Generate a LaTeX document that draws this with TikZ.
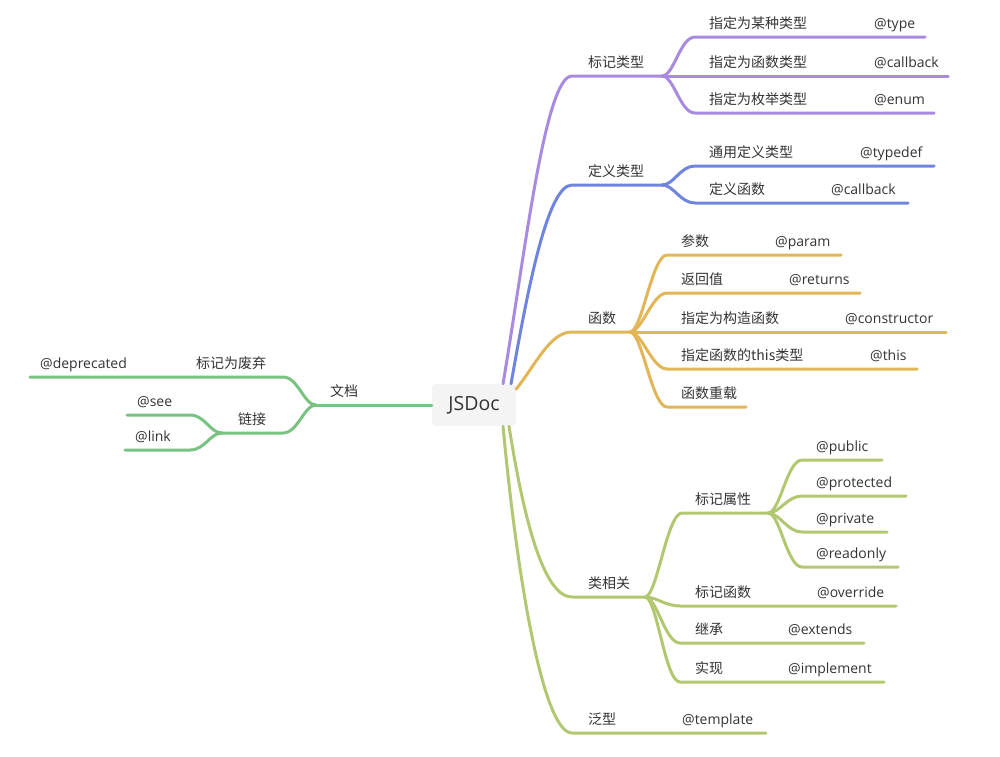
\documentclass[tikz,border=0pt]{standalone}
\usepackage{fontspec}
\setmainfont{Open Sans}
\newfontfamily\cjk{Noto Sans CJK SC}
\usetikzlibrary{calc}
\usepackage{xcolor}
\definecolor{txt}{HTML}{333333}
\definecolor{rootgray}{HTML}{F4F4F4}
\definecolor{mpurple}{HTML}{A88BE0}
\definecolor{mblue}{HTML}{6E84DE}
\definecolor{mgold}{HTML}{E2B556}
\definecolor{mgreen}{HTML}{78C381}
\definecolor{molive}{HTML}{B2C870}

\begin{document}
\begin{tikzpicture}[x=1pt, y=-1pt,
    line/.style={line width=3pt, line cap=round},
    lbl/.style={anchor=base west, inner sep=0pt, text=txt, font=\fontsize{14}{17}\selectfont},
    zh/.style={lbl, font=\fontsize{14}{17}\selectfont\cjk},
    fork/.style={to path={.. controls +(12,0) and +(-15,0) .. (\tikztotarget)}},
    lfork/.style={to path={.. controls +(-12,0) and +(15,0) .. (\tikztotarget)}}]

        \useasboundingbox (0,0) rectangle (1000,756);

        % Root
        \node[fill=rootgray, rounded corners=4pt, minimum width=84pt, minimum height=42pt,
              inner sep=0pt, text=txt, font=\fontsize{19.5}{22}\selectfont] (root) at (474,405) {JSDoc};

        % Purple: 标记类型
        \coordinate (mk-s) at (572,76);
        \coordinate (mk-e) at (662,76);
        \draw[line, mpurple] ($(root.north)+(29,0)$) .. controls +(22,-130) and +(-27,0) .. (mk-s) -- (mk-e);
        \node[zh] (mk) at ($(mk-s)+(16,-9)$) {标记类型};
        \foreach \n/\y/\xe/\a/\xb/\b in {t1/37/925/指定为某种类型/874/@type,
                                         t2/76/948/指定为函数类型/874/@callback,
                                         t3/113/934/指定为枚举类型/874/@enum}
        {
          \coordinate (\n-s) at (695,\y);
          \coordinate (\n-e) at (\xe,\y);
          \draw[line, mpurple] (mk-e) to[fork] (\n-s) -- (\n-e);
          \node[zh] (\n-a) at (709,\y-9) {\a};
          \node[lbl] (\n-b) at (\xb,\y-9) {\b};
        }

        % Blue: 定义类型
        \coordinate (df-s) at (572,185);
        \coordinate (df-e) at (662,185);
        \draw[line, mblue] ($(root.north)+(37,0)$) .. controls +(16,-90) and +(-25,0) .. (df-s) -- (df-e);
        \node[zh] (df) at ($(df-s)+(16,-9)$) {定义类型};
        \foreach \n/\y/\xe/\a/\xb/\b in {d1/166/934/通用定义类型/860/@typedef,
                                         d2/203/908/定义函数/831/@callback}
        {
          \coordinate (\n-s) at (695,\y);
          \coordinate (\n-e) at (\xe,\y);
          \draw[line, mblue] (df-e) to[fork] (\n-s) -- (\n-e);
          \node[zh] (\n-a) at (709,\y-9) {\a};
          \node[lbl] (\n-b) at (\xb,\y-9) {\b};
        }

        % Gold: 函数
        \coordinate (fn-s) at (572,332);
        \coordinate (fn-e) at (630,332);
        \draw[line, mgold] ($(root.east)+(0,-16)$) .. controls +(20,-25) and +(-22,0) .. (fn-s) -- (fn-e);
        \node[zh] (fn) at ($(fn-s)+(16,-9)$) {函数};
        \foreach \n/\y/\xe/\a/\xb/\b in {f1/255/841/参数/775/@param,
                                         f2/293/860/返回值/789/@returns,
                                         f3/332/946/指定为构造函数/845/@constructor,
                                         f4/369/917/指定函数的this类型/870/@this}
        {
          \coordinate (\n-s) at (667,\y);
          \coordinate (\n-e) at (\xe,\y);
          \draw[line, mgold] (fn-e) to[fork] (\n-s) -- (\n-e);
          \node[zh] (\n-a) at (681,\y-9) {\a};
          \node[lbl] (\n-b) at (\xb,\y-9) {\b};
        }
        \coordinate (f5-s) at (667,407);
        \coordinate (f5-e) at (746,407);
        \draw[line, mgold] (fn-e) to[fork] (f5-s) -- (f5-e);
        \node[zh] (f5-a) at (681,398) {函数重载};

        % Olive: 类相关
        \coordinate (cl-s) at (572,597);
        \coordinate (cl-e) at (645,597);
        \draw[line, molive] ($(root.south)+(35,0)$) .. controls +(15,95) and +(-28,0) .. (cl-s) -- (cl-e);
        \node[zh] (cl) at ($(cl-s)+(16,-9)$) {类相关};
        \coordinate (pr-s) at (682,513);
        \coordinate (pr-e) at (768,513);
        \draw[line, molive] (cl-e) to[fork] (pr-s) -- (pr-e);
        \node[zh] (pr) at ($(pr-s)+(13,-9)$) {标记属性};
        \foreach \n/\y/\xe/\b in {p1/460/882/@public, p2/496/906/@protected,
                                  p3/532/887/@private, p4/567/898/@readonly}
        {
          \coordinate (\n-s) at (802,\y);
          \coordinate (\n-e) at (\xe,\y);
          \draw[line, molive] (pr-e) to[fork] (\n-s) -- (\n-e);
          \node[lbl] (\n-b) at (816,\y-9) {\b};
        }
        \foreach \n/\y/\xe/\a/\xb/\b in {c1/606/896/标记函数/817/@override,
                                         c2/643/864/继承/788/@extends,
                                         c3/682/884/实现/788/@implement}
        {
          \coordinate (\n-s) at (680,\y);
          \coordinate (\n-e) at (\xe,\y);
          \draw[line, molive] (cl-e) to[fork] (\n-s) -- (\n-e);
          \node[zh] (\n-a) at (695,\y-9) {\a};
          \node[lbl] (\n-b) at (\xb,\y-9) {\b};
        }

        % Olive: 泛型
        \coordinate (gn-s) at (572,733);
        \coordinate (gn-e) at (766,733);
        \draw[line, molive] ($(root.south)+(29,0)$) .. controls +(15,160) and +(-28,0) .. (gn-s) -- (gn-e);
        \node[zh] (gn-a) at ($(gn-s)+(16,-9)$) {泛型};
        \node[lbl] (gn-b) at (682,724) {@template};

        % Green: 文档
        \coordinate (dc-e) at (316,405);
        \draw[line, mgreen] (root.west) -- (dc-e);
        \node[zh] (dc) at (330,396) {文档};
        \coordinate (dp-s) at (283,377);
        \coordinate (dp-e) at (30,377);
        \draw[line, mgreen] (dc-e) to[lfork] (dp-s) -- (dp-e);
        \node[zh] (dp-a) at (196,368) {标记为废弃};
        \node[lbl] (dp-b) at (40,368) {@deprecated};
        \coordinate (lk-s) at (283,433);
        \coordinate (lk-e) at (222,433);
        \draw[line, mgreen] (dc-e) to[lfork] (lk-s) -- (lk-e);
        \node[zh] (lk) at (238,424) {链接};
        \foreach \n/\y/\xe/\xb/\b in {s1/415/127/137/@see, s2/450/125/135/@link}
        {
          \coordinate (\n-s) at (190,\y);
          \coordinate (\n-e) at (\xe,\y);
          \draw[line, mgreen] (lk-e) to[lfork] (\n-s) -- (\n-e);
          \node[lbl] (\n-b) at (\xb,\y-9) {\b};
        }
    \end{tikzpicture}
\end{document}
